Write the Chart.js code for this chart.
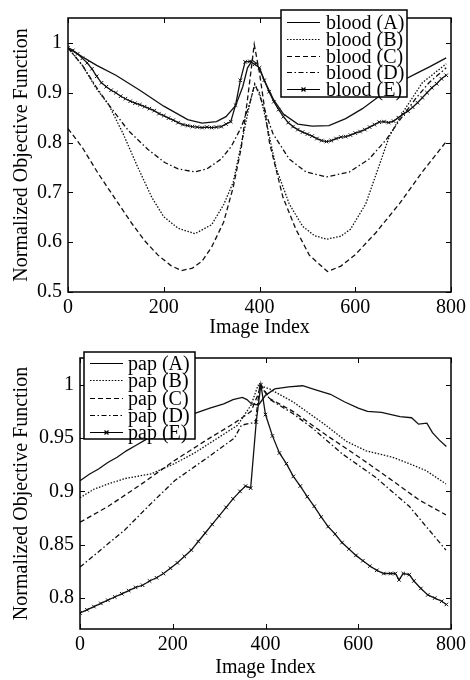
<!DOCTYPE html>
<html>
<head>
<meta charset="utf-8">
<script src="https://cdn.jsdelivr.net/npm/chart.js@4.4.1/dist/chart.umd.min.js"></script>
<style>
  html, body { margin: 0; padding: 0; background: #fff; }
  .panel { position: absolute; left: 0; width: 470px; height: 340px; }
</style>
</head>
<body>
<div class="panel" style="top:0"><canvas id="blood" width="470" height="340"></canvas></div>
<div class="panel" style="top:340px"><canvas id="pap" width="470" height="340"></canvas></div>
<script>
// ---- top panel: blood ----
const bloodX_A = [0, 30, 60, 100, 150, 200, 250, 280, 310, 330, 350, 365, 375, 385, 395, 410, 430, 450, 480, 510, 545, 580, 615, 650, 700, 730, 755, 790];
const bloodA   = [0.99, 0.972, 0.955, 0.935, 0.905, 0.873, 0.846, 0.839, 0.842, 0.852, 0.874, 0.912, 0.95, 0.965, 0.958, 0.925, 0.885, 0.857, 0.837, 0.833, 0.834, 0.848, 0.868, 0.893, 0.925, 0.94, 0.952, 0.97];

const bloodX_B = [0, 30, 60, 85, 115, 145, 175, 200, 230, 265, 300, 325, 345, 365, 380, 390, 400, 410, 435, 462, 490, 515, 540, 570, 590, 622, 650, 671, 699, 740, 790];
const bloodB   = [0.99, 0.955, 0.907, 0.876, 0.818, 0.752, 0.69, 0.651, 0.628, 0.617, 0.635, 0.675, 0.72, 0.81, 0.88, 0.916, 0.9, 0.86, 0.748, 0.677, 0.632, 0.613, 0.606, 0.612, 0.626, 0.677, 0.754, 0.812, 0.86, 0.92, 0.958];

const bloodX_C = [0, 30, 63, 100, 133, 160, 188, 215, 237, 260, 280, 300, 325, 345, 362, 376, 389, 400, 421, 449, 476, 504, 542, 570, 600, 643, 692, 740, 790];
const bloodC   = [0.828, 0.79, 0.738, 0.685, 0.638, 0.603, 0.574, 0.553, 0.543, 0.548, 0.562, 0.59, 0.64, 0.71, 0.79, 0.895, 0.997, 0.94, 0.799, 0.69, 0.626, 0.574, 0.541, 0.552, 0.575, 0.619, 0.677, 0.741, 0.802];

const bloodX_D = [0, 30, 60, 85, 126, 167, 202, 230, 265, 290, 320, 341, 362, 379, 390, 400, 428, 462, 497, 540, 588, 629, 664, 692, 726, 754, 790];
const bloodD   = [0.99, 0.955, 0.91, 0.876, 0.824, 0.786, 0.76, 0.747, 0.741, 0.747, 0.767, 0.792, 0.831, 0.876, 0.918, 0.895, 0.818, 0.767, 0.741, 0.731, 0.741, 0.767, 0.805, 0.844, 0.888, 0.92, 0.95];

const bloodX_E = [0, 10, 20, 30, 40, 50, 60, 70, 80, 90, 100, 110, 120, 130, 140, 150, 160, 170, 180, 190, 200, 210, 220, 230, 240, 250, 260, 270, 280, 290, 300, 310, 320, 330, 340, 350, 360, 370, 380, 390, 400, 410, 420, 430, 440, 450, 460, 470, 480, 490, 500, 510, 520, 530, 540, 550, 560, 570, 580, 590, 600, 610, 620, 630, 640, 650, 660, 670, 680, 690, 700, 710, 720, 730, 740, 750, 760, 770, 780, 790];
const bloodE   = [0.99, 0.985, 0.978, 0.969, 0.96, 0.948, 0.933, 0.92, 0.912, 0.905, 0.9, 0.893, 0.888, 0.883, 0.879, 0.876, 0.872, 0.868, 0.864, 0.858, 0.854, 0.849, 0.845, 0.84, 0.836, 0.834, 0.832, 0.831, 0.83, 0.831, 0.83, 0.831, 0.832, 0.837, 0.842, 0.875, 0.925, 0.962, 0.963, 0.957, 0.95, 0.925, 0.902, 0.882, 0.866, 0.852, 0.84, 0.832, 0.826, 0.821, 0.817, 0.813, 0.808, 0.804, 0.802, 0.804, 0.808, 0.811, 0.812, 0.815, 0.819, 0.822, 0.826, 0.831, 0.836, 0.841, 0.842, 0.84, 0.843, 0.85, 0.857, 0.863, 0.871, 0.88, 0.89, 0.9, 0.91, 0.918, 0.928, 0.935];

const bloodLabels = ['blood (A)', 'blood (B)', 'blood (C)', 'blood (D)', 'blood (E)'];
const bloodTicksY = [0.5, 0.6, 0.7, 0.8, 0.9, 1];
const bloodTickLabelsY = ['0.5', '0.6', '0.7', '0.8', '0.9', '1'];

// ---- bottom panel: pap ----
const papX_A = [0, 20, 40, 60, 80, 100, 120, 140, 160, 180, 200, 240, 280, 310, 330, 350, 360, 370, 385, 400, 420, 450, 480, 510, 540, 570, 600, 620, 650, 690, 715, 730, 748, 760, 775, 790];
const papA   = [0.91, 0.916, 0.921, 0.927, 0.932, 0.938, 0.943, 0.948, 0.953, 0.958, 0.963, 0.972, 0.978, 0.982, 0.986, 0.988, 0.986, 0.982, 0.981, 0.99, 0.996, 0.998, 0.999, 0.995, 0.991, 0.984, 0.978, 0.975, 0.974, 0.97, 0.969, 0.963, 0.964, 0.955, 0.948, 0.942];

const papX_B = [0, 30, 61, 97, 154, 204, 247, 297, 340, 369, 384, 409, 459, 530, 574, 617, 674, 710, 746, 789];
const papB   = [0.894, 0.902, 0.907, 0.912, 0.9165, 0.926, 0.936, 0.95, 0.962, 0.981, 0.9995, 0.996, 0.984, 0.962, 0.947, 0.938, 0.932, 0.926, 0.9195, 0.907];

const papX_C = [0, 61, 133, 204, 276, 333, 369, 383, 390, 409, 459, 530, 602, 674, 731, 789];
const papC   = [0.871, 0.886, 0.907, 0.929, 0.949, 0.964, 0.975, 0.99, 1.0, 0.987, 0.975, 0.953, 0.932, 0.91, 0.892, 0.878];

const papX_D = [0, 47, 97, 154, 204, 276, 333, 348, 369, 378, 388, 410, 459, 502, 566, 638, 710, 789];
const papD   = [0.829, 0.846, 0.864, 0.889, 0.91, 0.932, 0.95, 0.962, 0.964, 0.964, 1.0, 0.986, 0.973, 0.959, 0.935, 0.913, 0.886, 0.845];

const papX_E = [0, 15, 30, 45, 60, 75, 90, 105, 120, 135, 150, 165, 180, 195, 210, 225, 240, 255, 270, 285, 300, 315, 330, 345, 357, 368, 380, 390, 400, 415, 430, 445, 460, 475, 490, 505, 520, 535, 550, 565, 580, 595, 610, 625, 640, 655, 670, 680, 688, 697, 710, 720, 735, 750, 765, 780, 790];
const papE   = [0.786, 0.789, 0.792, 0.795, 0.798, 0.801, 0.804, 0.807, 0.81, 0.812, 0.816, 0.819, 0.823, 0.828, 0.833, 0.839, 0.845, 0.853, 0.861, 0.869, 0.877, 0.885, 0.893, 0.9, 0.905, 0.903, 0.965, 1.0, 0.972, 0.952, 0.936, 0.926, 0.914, 0.905, 0.895, 0.886, 0.876, 0.867, 0.86, 0.852, 0.846, 0.84, 0.835, 0.83, 0.826, 0.823, 0.823, 0.823, 0.817, 0.823, 0.822, 0.816, 0.809, 0.803, 0.8, 0.797, 0.794];

const papLabels = ['pap (A)', 'pap (B)', 'pap (C)', 'pap (D)', 'pap (E)'];
const papTicksY = [0.8, 0.85, 0.9, 0.95, 1];
const papTickLabelsY = ['0.8', '0.85', '0.9', '0.95', '1'];

const ticksX = [0, 200, 400, 600, 800];

// line styles for A..E
const dashes = [[], [1.5, 1.6], [5, 3], [5, 2.5, 1.5, 2.5], []];
const markers = [false, false, false, false, true];

Chart.defaults.font.family = '"Liberation Serif", "Times New Roman", serif';
Chart.defaults.font.size = 20;
Chart.defaults.color = '#000';

function series(label, xs, ys, i) {
    return {
        label: label,
        data: xs.map((x, k) => ({ x: x, y: ys[k] })),
        borderColor: '#111',
        borderWidth: 1.3,
        borderDash: dashes[i],
        pointRadius: markers[i] ? 2.5 : 0,
        pointStyle: 'crossRot',
        pointBorderColor: '#111',
        pointBorderWidth: 1,
        tension: 0,
        fill: false
    };
}

// box around the plot with inward ticks on all four sides
const frameTicks = {
    id: 'frameTicks',
    afterDatasetsDraw(chart) {
        const { ctx, chartArea: a, scales } = chart;
        const len = 5;
        ctx.save();
        ctx.strokeStyle = '#000';
        ctx.lineWidth = 1;
        ctx.setLineDash([]);
        ctx.beginPath();
        scales.x.ticks.forEach(t => {
            const px = Math.round(scales.x.getPixelForValue(t.value)) + 0.5;
            ctx.moveTo(px, a.bottom); ctx.lineTo(px, a.bottom - len);
            ctx.moveTo(px, a.top); ctx.lineTo(px, a.top + len);
        });
        scales.y.ticks.forEach(t => {
            const py = Math.round(scales.y.getPixelForValue(t.value)) + 0.5;
            ctx.moveTo(a.left, py); ctx.lineTo(a.left + len, py);
            ctx.moveTo(a.right, py); ctx.lineTo(a.right - len, py);
        });
        ctx.stroke();
        ctx.lineWidth = 1.5;
        ctx.strokeRect(a.left, a.top, a.right - a.left, a.bottom - a.top);
        ctx.restore();
    }
};

// MATLAB-like boxed legend drawn inside the plot
const boxLegend = {
    id: 'boxLegend',
    afterDraw(chart, args, opts) {
        const ctx = chart.ctx;
        const sets = chart.data.datasets;
        ctx.save();
        ctx.fillStyle = '#fff';
        ctx.fillRect(opts.x, opts.y, opts.w, opts.h);
        ctx.lineWidth = 1.5;
        ctx.strokeStyle = '#000';
        ctx.setLineDash([]);
        ctx.strokeRect(opts.x, opts.y, opts.w, opts.h);
        ctx.font = '20px "Liberation Serif", "Times New Roman", serif';
        ctx.textBaseline = 'middle';
        ctx.textAlign = 'left';
        ctx.fillStyle = '#000';
        sets.forEach((ds, i) => {
            const cy = Math.round(opts.y + opts.first + i * opts.row) + 0.5;
            ctx.lineWidth = 1.2;
            ctx.setLineDash(ds.borderDash || []);
            ctx.beginPath();
            ctx.moveTo(opts.lx0, cy);
            ctx.lineTo(opts.lx1, cy);
            ctx.stroke();
            ctx.setLineDash([]);
            if (ds.pointRadius > 0) {
                const mx = (opts.lx0 + opts.lx1) / 2, r = 2;
                ctx.beginPath();
                ctx.moveTo(mx - r, cy - r); ctx.lineTo(mx + r, cy + r);
                ctx.moveTo(mx - r, cy + r); ctx.lineTo(mx + r, cy - r);
                ctx.stroke();
            }
            ctx.fillText(ds.label, opts.tx, cy + 1);
        });
        ctx.restore();
    }
};

function makeChart(id, datasets, yMin, yMax, yTicks, yTickLabels, axisW, axisH, padTop, legendOpts) {
    return new Chart(document.getElementById(id), {
        type: 'line',
        data: { datasets: datasets },
        options: {
            responsive: false,
            animation: false,
            events: [],
            layout: { padding: { left: 0, right: 18, top: padTop, bottom: 0 } },
            scales: {
                x: {
                    type: 'linear',
                    min: 0,
                    max: 800,
                    afterBuildTicks: s => { s.ticks = ticksX.map(v => ({ value: v })); },
                    afterFit: s => { s.height = axisH; },
                    grid: { display: false, drawTicks: false },
                    border: { display: false },
                    ticks: { padding: 4, maxRotation: 0 },
                    title: { display: true, text: 'Image Index', padding: { top: 0, bottom: 0 } }
                },
                y: {
                    type: 'linear',
                    min: yMin,
                    max: yMax,
                    afterBuildTicks: s => { s.ticks = yTicks.map(v => ({ value: v })); },
                    afterFit: s => { s.width = axisW; },
                    grid: { display: false, drawTicks: false },
                    border: { display: false },
                    ticks: {
                        padding: 6,
                        callback: (v) => yTickLabels[yTicks.indexOf(v)]
                    },
                    title: { display: true, text: 'Normalized Objective Function', padding: { top: 10, bottom: 0 } }
                }
            },
            plugins: {
                legend: { display: false },
                tooltip: { enabled: false },
                boxLegend: legendOpts
            }
        },
        plugins: [frameTicks, boxLegend]
    });
}

const bloodSets = [
    series(bloodLabels[0], bloodX_A, bloodA, 0),
    series(bloodLabels[1], bloodX_B, bloodB, 1),
    series(bloodLabels[2], bloodX_C, bloodC, 2),
    series(bloodLabels[3], bloodX_D, bloodD, 3),
    series(bloodLabels[4], bloodX_E, bloodE, 4)
];
const papSets = [
    series(papLabels[0], papX_A, papA, 0),
    series(papLabels[1], papX_B, papB, 1),
    series(papLabels[2], papX_C, papC, 2),
    series(papLabels[3], papX_D, papD, 3),
    series(papLabels[4], papX_E, papE, 4)
];

makeChart('blood', bloodSets, 0.5, 1.05, bloodTicksY, bloodTickLabelsY, 68, 48, 6,
    { x: 281, y: 10, w: 126, h: 87, first: 11.7, row: 16.9, lx0: 287, lx1: 320, tx: 326 });
makeChart('pap', papSets, 0.771, 1.025, papTicksY, papTickLabelsY, 80, 51, 12,
    { x: 84, y: 12, w: 111, h: 87, first: 11, row: 17.3, lx0: 90, lx1: 123, tx: 128 });
</script>
</body>
</html>
